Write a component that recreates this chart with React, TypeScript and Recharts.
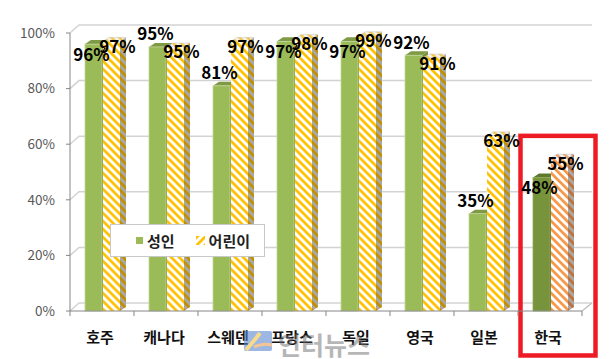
import React from "react";
import {
  BarChart,
  Bar,
  XAxis,
  YAxis,
  CartesianGrid,
  LabelList,
  Legend,
  ReferenceArea,
} from "recharts";

// ---- data ----
const countries = ["호주", "캐나다", "스웨덴", "프랑스", "독일", "영국", "일본", "한국"];
const adultValues = [96, 95, 81, 97, 97, 92, 35, 48];
const childValues = [97, 95, 97, 98, 99, 91, 63, 55];
const yTicks = [0, 20, 40, 60, 80, 100];
const seriesNames = ["성인", "어린이"];
const HIGHLIGHT = "한국";

const data = countries.map((c, i) => ({
  country: c,
  adult: adultValues[i],
  child: childValues[i],
}));

const FONT = '"Noto Sans CJK KR", "Noto Sans", sans-serif';
const D = 6; // 3D depth x
const DY = 4; // 3D depth y
const LABEL_SIZE = 17;
const PW = 5.66; // stripe pattern period
const SW = 2.7; // stripe width

const AdultShape = (props: any) => {
  const { x, y, width: w, height: h, payload } = props;
  if (!h || h <= 0) return null;
  const hl = payload && payload.country === HIGHLIGHT;
  const front = hl ? "#77933C" : "#9BBB59";
  const top = hl ? "#5F7A2E" : "#7E9A45";
  const side = hl ? "#56702A" : "#76923C";
  return (
    <g>
      <polygon
        points={`${x + w},${y} ${x + w + D},${y - DY} ${x + w + D},${y + h - DY} ${x + w},${y + h}`}
        fill={side}
      />
      <polygon
        points={`${x},${y} ${x + D},${y - DY} ${x + w + D},${y - DY} ${x + w},${y}`}
        fill={top}
      />
      <rect x={x} y={y} width={w} height={h} fill={front} stroke={hl ? "#8FAA55" : "#C3D69B"} strokeWidth={0.8} />
    </g>
  );
};

const ChildShape = (props: any) => {
  const { x, y, width: w, height: h, payload } = props;
  if (!h || h <= 0) return null;
  const hl = payload && payload.country === HIGHLIGHT;
  const front = hl ? "url(#stripeO)" : "url(#stripeY)";
  const top = hl ? "url(#topO)" : "url(#topY)";
  const side = hl ? "url(#sideO)" : "url(#sideY)";
  return (
    <g>
      <polygon
        points={`${x + w},${y} ${x + w + D},${y - DY} ${x + w + D},${y + h - DY} ${x + w},${y + h}`}
        fill={side}
      />
      <polygon
        points={`${x},${y} ${x + D},${y - DY} ${x + w + D},${y - DY} ${x + w},${y}`}
        fill={top}
        stroke="#C8C8C8"
        strokeWidth={0.5}
      />
      <rect x={x} y={y} width={w} height={h} fill={front} />
    </g>
  );
};

const CHILD_DY = 4;

const AdultLabel = (p: any) => {
  const idx = p.index;
  const pxPerUnit = p.value ? p.height / p.value : 0;
  const base = p.y + p.height;
  const childTop = base - childValues[idx] * pxPerUnit;
  const childLabelY = childTop + CHILD_DY;
  let ly = p.y - 14;
  if (Math.abs(ly - childLabelY) < LABEL_SIZE) ly = p.y + 9;
  return (
    <text
      x={p.x + p.width / 2 - 2}
      y={ly}
      textAnchor="middle"
      dominantBaseline="central"
      fontFamily={FONT}
      fontWeight={700}
      fontSize={LABEL_SIZE}
      fill="#000"
    >
      {`${p.value}%`}
    </text>
  );
};

const ChildLabel = (p: any) => (
  <text
    x={p.x + p.width / 2 + 6}
    y={p.y + CHILD_DY}
    textAnchor="middle"
    dominantBaseline="central"
    fontFamily={FONT}
    fontWeight={700}
    fontSize={LABEL_SIZE}
    fill="#000"
  >
    {`${p.value}%`}
  </text>
);

const gridLine = (props: any) => {
  const { x1, y1, x2, y, height } = props;
  const isFloor = typeof y === "number" && typeof height === "number" && Math.abs(y1 - (y + height)) < 1;
  return (
    <g key={props.key ?? `g-${y1}`}>
      <polyline
        points={`${x1},${y1} ${x1 + 9},${y1 - 8} ${x2 + 10},${y1 - 8}`}
        fill="none"
        stroke="#D3D3D3"
        strokeWidth={1.5}
      />
      {isFloor ? (
        <line x1={x2} y1={y1} x2={x2 + 10} y2={y1 - 8} stroke="#BFBFBF" strokeWidth={1.5} />
      ) : null}
    </g>
  );
};

const XTick = (props: any) => {
  const { x, y, payload, index, visibleTicksCount } = props;
  const off = payload.offset || 32;
  const axisY = y - 4 - 15;
  const last = index === (visibleTicksCount ?? countries.length) - 1;
  return (
    <g>
      <line x1={x - off} y1={axisY} x2={x - off} y2={axisY + 5} stroke="#868686" />
      {last ? <line x1={x + off} y1={axisY} x2={x + off} y2={axisY + 5} stroke="#868686" /> : null}
      <text
        x={x - 2}
        y={y + 13}
        textAnchor="middle"
        fontFamily={FONT}
        fontWeight={600}
        fontSize={15}
        fill="#111"
      >
        {payload.value}
      </text>
    </g>
  );
};

const LegendContent = (props: any) => {
  const payload = props.payload || [];
  return (
    <div
      style={{
        boxSizing: "border-box",
        width: 155,
        height: 33,
        border: "1px solid #C8C8C8",
        background: "#fff",
        display: "flex",
        alignItems: "center",
        fontFamily: FONT,
        fontSize: 15,
        fontWeight: 600,
        color: "#222",
      }}
    >
      {payload.map((e: any, i: number) => (
        <div key={i} style={{ display: "flex", alignItems: "center", marginLeft: i === 0 ? 25 : 21 }}>
          {i === 0 ? (
            <span style={{ display: "inline-block", width: 7, height: 7, background: "#9BBB59" }} />
          ) : (
            <svg width={9} height={9}>
              <rect width={9} height={9} fill="url(#stripeYL)" />
            </svg>
          )}
          <span style={{ marginLeft: 4, lineHeight: "15px" }}>{e.value}</span>
        </div>
      ))}
    </div>
  );
};

const RedBox = (props: any) => {
  const { x, y, width, height } = props;
  return (
    <rect
      x={x + 2.5}
      y={y}
      width={width + 11}
      height={height}
      fill="none"
      stroke="#ED1C24"
      strokeWidth={4.5}
    />
  );
};

const StripePattern = ({ id, bg, fg, rot = -45 }: { id: string; bg: string; fg: string; rot?: number }) => (
  <pattern id={id} patternUnits="userSpaceOnUse" width={PW} height={PW} patternTransform={`rotate(${rot})`}>
    <rect width={PW} height={PW} fill={bg} />
    <rect width={SW} height={PW} fill={fg} />
  </pattern>
);

const Patterns = () => (
  <svg width={0} height={0} style={{ position: "absolute" }}>
    <defs>
      <StripePattern id="stripeY" bg="#FFFFFF" fg="#FFC000" />
      <StripePattern id="stripeYL" bg="#FFFFFF" fg="#FFC000" rot={45} />
      <StripePattern id="topY" bg="#F2F2F2" fg="#F2C94C" />
      <StripePattern id="sideY" bg="#A8A8A8" fg="#BF9000" />
      <StripePattern id="stripeO" bg="#FFFFFF" fg="#F79646" />
      <StripePattern id="topO" bg="#F0F0F0" fg="#E9A57A" />
      <StripePattern id="sideO" bg="#A8A8A8" fg="#C0703A" />
    </defs>
  </svg>
);

export default function App() {
  return (
    <div style={{ position: "absolute", left: 0, top: 0, width: 612, height: 359, background: "#fff", overflow: "hidden" }}>
      <Patterns />
      <BarChart
        width={612}
        height={359}
        data={data}
        margin={{ top: 33, right: 30, bottom: 0, left: 0 }}
        barSize={17}
        barGap={1}
      >
        <CartesianGrid vertical={false} horizontal={gridLine} />
        <YAxis
          domain={[0, 100]}
          ticks={yTicks}
          width={70}
          tickSize={4}
          tickMargin={11}
          tickFormatter={(v: number) => `${v}%`}
          axisLine={{ stroke: "#868686" }}
          tickLine={{ stroke: "#868686" }}
          tick={{ fontFamily: FONT, fontSize: 13.5, fill: "#595959" }}
        />
        <XAxis
          dataKey="country"
          height={48}
          tickSize={4}
          tickMargin={15}
          tickLine={false}
          axisLine={{ stroke: "#868686" }}
          tick={<XTick />}
          interval={0}
        />
        <Legend
          layout="horizontal"
          verticalAlign="middle"
          align="center"
          content={<LegendContent />}
          wrapperStyle={{ left: 110, top: 224, width: 155, height: 33 }}
        />
        <Bar dataKey="adult" name={seriesNames[0]} fill="#9BBB59" shape={<AdultShape />} isAnimationActive={false}>
          <LabelList dataKey="adult" content={<AdultLabel />} />
        </Bar>
        <Bar dataKey="child" name={seriesNames[1]} fill="#FFC000" shape={<ChildShape />} isAnimationActive={false}>
          <LabelList dataKey="child" content={<ChildLabel />} />
        </Bar>
        <ReferenceArea
          x1={HIGHLIGHT}
          x2={HIGHLIGHT}
          y1={-16}
          y2={63}
          ifOverflow="visible"
          shape={<RedBox />}
        />
      </BarChart>
      <svg
        width={32}
        height={24}
        style={{ position: "absolute", left: 242, top: 329, opacity: 0.6, pointerEvents: "none" }}
      >
        <rect x={2} y={2} width={28} height={20} rx={2} fill="#5B8AD0" />
        <path d="M4 21 Q12 12 18 4" stroke="#F5C242" strokeWidth={4} fill="none" />
        <path d="M12 18 Q20 14 30 16" stroke="#F0A050" strokeWidth={3} fill="none" />
      </svg>
      <div
        style={{
          position: "absolute",
          left: 278,
          top: 329,
          fontFamily: FONT,
          fontWeight: 700,
          fontSize: 25,
          color: "#707070",
          opacity: 0.5,
          pointerEvents: "none",
          lineHeight: 1.2,
        }}
      >
        인터뉴스
      </div>
    </div>
  );
}
